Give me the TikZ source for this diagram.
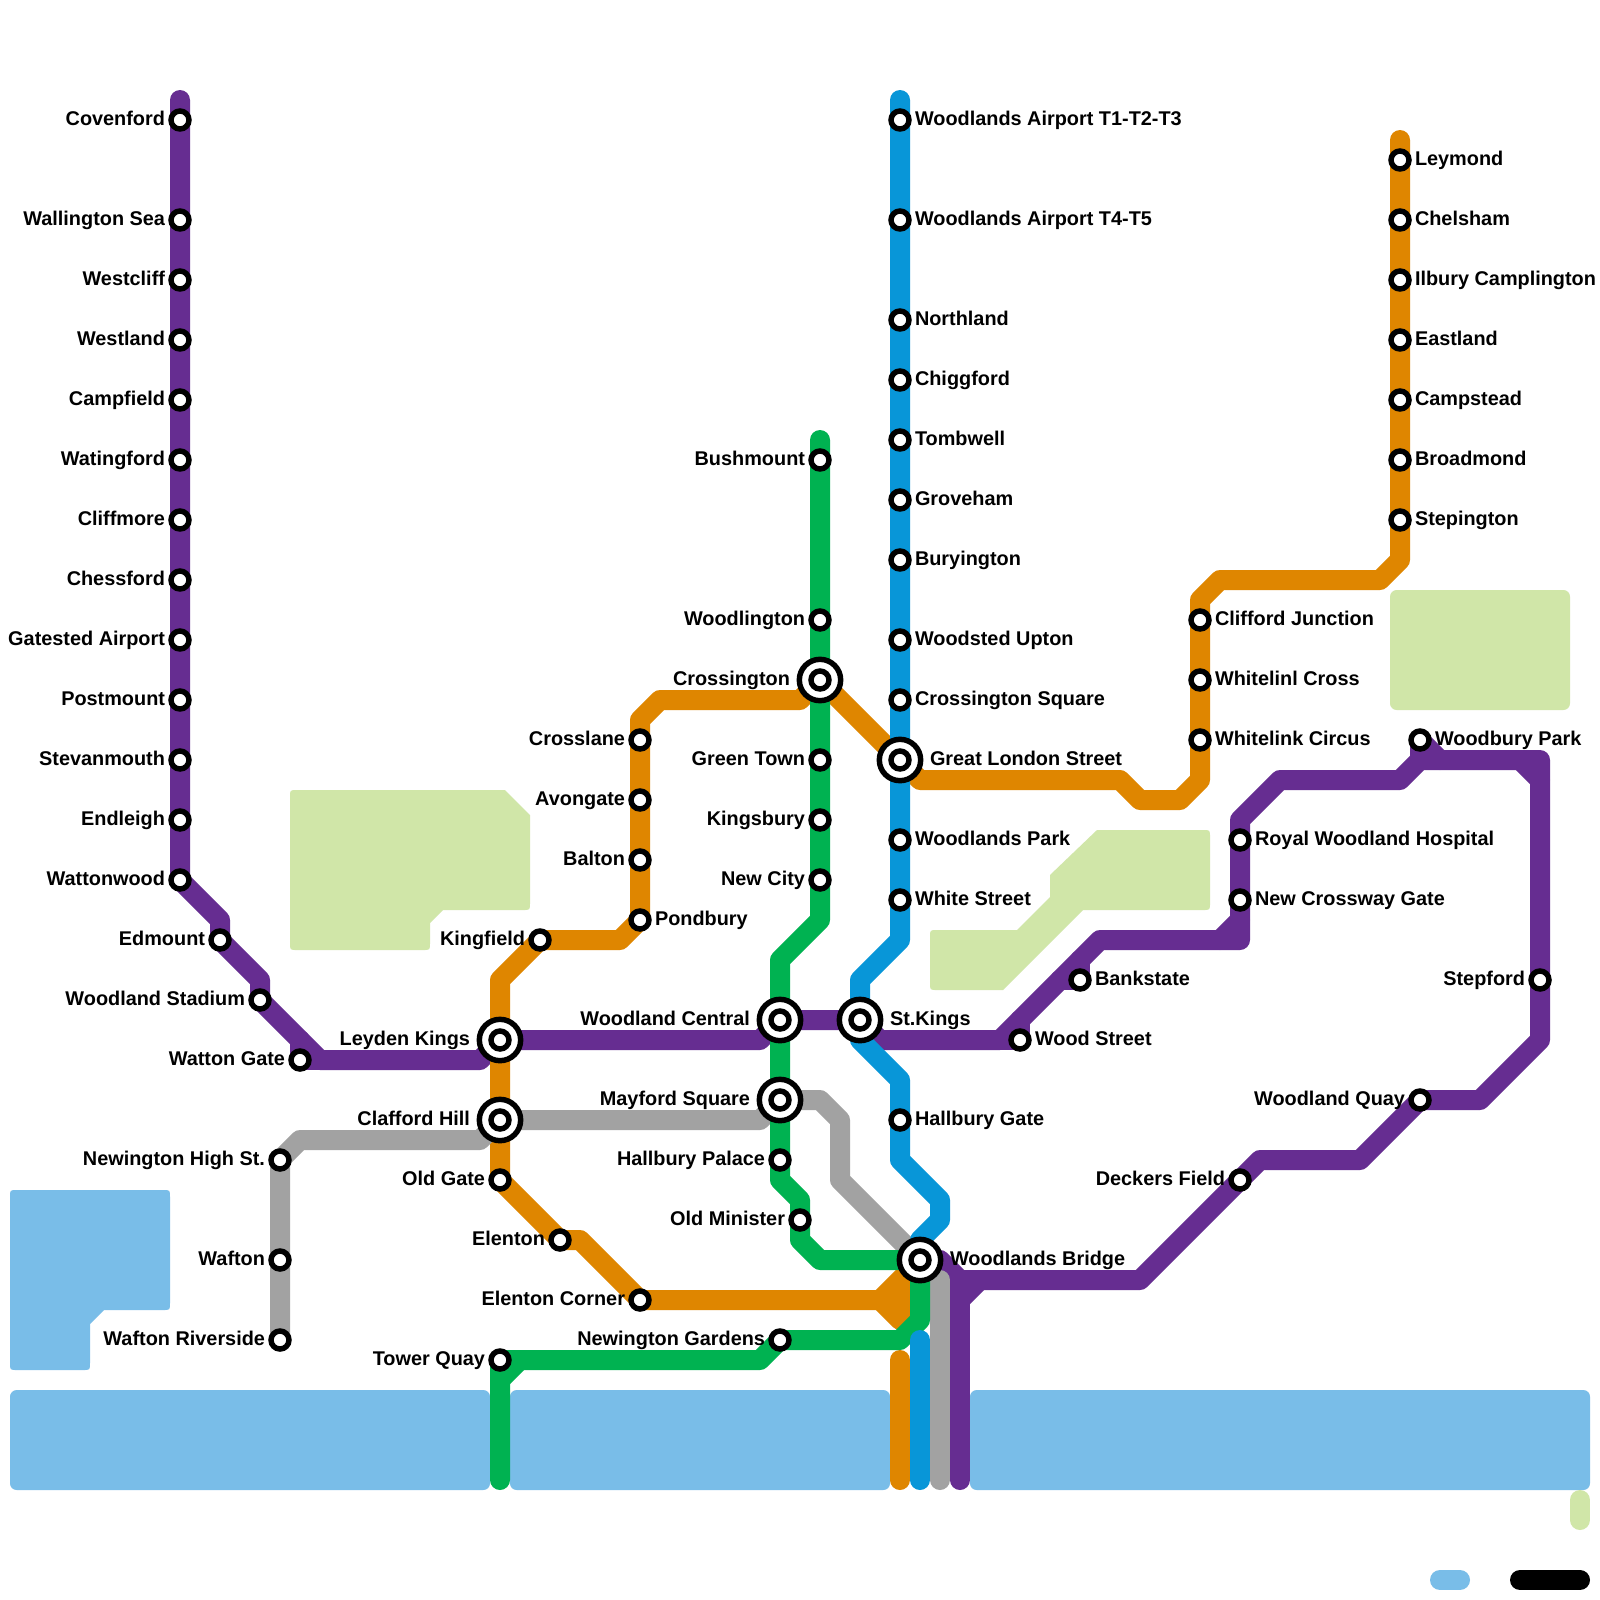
\documentclass[tikz,border=0pt]{standalone}
\usepackage{fontspec}
\setmainfont{Liberation Sans}
\usetikzlibrary{backgrounds}
\definecolor{cpurple}{HTML}{662D91}
\definecolor{corange}{HTML}{DF8600}
\definecolor{cgreen}{HTML}{00B251}
\definecolor{cblue}{HTML}{0896D8}
\definecolor{cgray}{HTML}{A2A2A2}
\definecolor{cwater}{HTML}{79BDE8}
\definecolor{cpark}{HTML}{D0E6A8}
\tikzset{
  stop/.style={circle,draw=black,fill=white,line width=4.1pt,minimum size=13.5pt,inner sep=0pt,outer sep=0pt},
  hubout/.style={circle,draw=black,fill=white,line width=4.1pt,minimum size=31pt,inner sep=0pt,outer sep=0pt},
  lbl/.style={font=\bfseries\fontsize{14.9pt}{15pt}\selectfont,text=black,inner sep=0pt,outer sep=0pt},
  route/.style={line width=15pt,line cap=round,line join=round},
  area/.style={rounded corners=5pt},
}
% name, x, y, text
\newcommand{\stR}[4]{\node[stop] (#1) at (#2,#3) {};\node[lbl,anchor=base west] (#1-l) at (#2+15,#3+5.3) {#4};}
\newcommand{\stL}[4]{\node[stop] (#1) at (#2,#3) {};\node[lbl,anchor=base east] (#1-l) at (#2-15,#3+5.3) {#4};}
\newcommand{\hubR}[4]{\node[hubout] (#1) at (#2,#3) {};\node[stop] (#1-i) at (#2,#3) {};\node[lbl,anchor=base west] (#1-l) at (#2+30,#3+5.3) {#4};}
\newcommand{\hubL}[4]{\node[hubout] (#1) at (#2,#3) {};\node[stop] (#1-i) at (#2,#3) {};\node[lbl,anchor=base east] (#1-l) at (#2-30,#3+5.3) {#4};}
\begin{document}
\begin{tikzpicture}[x=.75pt,y=-.75pt]
\useasboundingbox (0,0) rectangle (1600,1600);
% left purple
\stL{cov}{180}{120}{Covenford}
\stL{wal}{180}{220}{Wallington Sea}
\stL{wcl}{180}{280}{Westcliff}
\stL{wld}{180}{340}{Westland}
\stL{cam}{180}{400}{Campfield}
\stL{wat}{180}{460}{Watingford}
\stL{cli}{180}{520}{Cliffmore}
\stL{che}{180}{580}{Chessford}
\stL{gat}{180}{640}{Gatested Airport}
\stL{pos}{180}{700}{Postmount}
\stL{ste}{180}{760}{Stevanmouth}
\stL{end}{180}{820}{Endleigh}
\stL{wtw}{180}{880}{Wattonwood}
\stL{edm}{220}{940}{Edmount}
\stL{wst}{260}{1000}{Woodland Stadium}
\stL{wtg}{300}{1060}{Watton Gate}
\hubL{ley}{500}{1040}{Leyden Kings}
\hubL{wce}{780}{1020}{Woodland Central}
\hubR{ski}{860}{1020}{St.Kings}
\stR{wos}{1020}{1040}{Wood Street}
\stR{ban}{1080}{980}{Bankstate}
\stR{nwc}{1240}{900}{New Crossway Gate}
\stR{roy}{1240}{840}{Royal Woodland Hospital}
\stR{wbp}{1420}{740}{Woodbury Park}
\stL{stf}{1540}{980}{Stepford}
\stL{wqu}{1420}{1100}{Woodland Quay}
\stL{dec}{1240}{1180}{Deckers Field}
\hubR{wbr}{920}{1260}{Woodlands Bridge}
% blue
\stR{wa1}{900}{120}{Woodlands Airport T1-T2-T3}
\stR{wa4}{900}{220}{Woodlands Airport T4-T5}
\stR{nor}{900}{320}{Northland}
\stR{chi}{900}{380}{Chiggford}
\stR{tom}{900}{440}{Tombwell}
\stR{gro}{900}{500}{Groveham}
\stR{bur}{900}{560}{Buryington}
\stR{wup}{900}{640}{Woodsted Upton}
\stR{csq}{900}{700}{Crossington Square}
\hubR{gls}{900}{760}{Great London Street}
\stR{wpk}{900}{840}{Woodlands Park}
\stR{whs}{900}{900}{White Street}
\stR{hga}{900}{1120}{Hallbury Gate}
% orange
\stR{lym}{1400}{160}{Leymond}
\stR{chl}{1400}{220}{Chelsham}
\stR{ilb}{1400}{280}{Ilbury Camplington}
\stR{eas}{1400}{340}{Eastland}
\stR{cst}{1400}{400}{Campstead}
\stR{bro}{1400}{460}{Broadmond}
\stR{stp}{1400}{520}{Stepington}
\stR{clj}{1200}{620}{Clifford Junction}
\stR{wcr}{1200}{680}{Whitelinl Cross}
\stR{wci}{1200}{740}{Whitelink Circus}
\stL{crl}{640}{740}{Crosslane}
\stL{avo}{640}{800}{Avongate}
\stL{bal}{640}{860}{Balton}
\stR{pon}{640}{920}{Pondbury}
\stL{kin}{540}{940}{Kingfield}
\hubL{cla}{500}{1120}{Clafford Hill}
\stL{old}{500}{1180}{Old Gate}
\stL{ele}{560}{1240}{Elenton}
\stL{elc}{640}{1300}{Elenton Corner}
% green
\stL{bus}{820}{460}{Bushmount}
\stL{wgt}{820}{620}{Woodlington}
\hubL{cro}{820}{680}{Crossington}
\stL{grt}{820}{760}{Green Town}
\stL{kbu}{820}{820}{Kingsbury}
\stL{nci}{820}{880}{New City}
\hubL{may}{780}{1100}{Mayford Square}
\stL{hpa}{780}{1160}{Hallbury Palace}
\stL{omi}{800}{1220}{Old Minister}
\stL{nga}{780}{1340}{Newington Gardens}
\stL{tow}{500}{1360}{Tower Quay}
% gray
\stL{nhs}{280}{1160}{Newington High St.}
\stL{waf}{280}{1260}{Wafton}
\stL{wri}{280}{1340}{Wafton Riverside}

\begin{scope}[on background layer]
\fill[white] (0,0) rectangle (1600,1600);
% water
\fill[cwater] (17,1190) -- (163,1190) .. controls (170,1190) .. (170,1197) -- (170,1303) .. controls (170,1310) .. (163,1310) -- (104,1310) -- (90,1324) -- (90,1363) .. controls (90,1370) .. (83,1370) -- (17,1370) .. controls (10,1370) .. (10,1363) -- (10,1197) .. controls (10,1190) .. (17,1190) -- cycle;
\fill[cwater,area] (10,1390) rectangle (490,1490);
\fill[cwater,area] (510,1390) rectangle (890,1490);
\fill[cwater,area] (970,1390) rectangle (1590,1490);
% parks
\fill[cpark] (297,790) -- (505,790) -- (530,815) -- (530,903) .. controls (530,910) .. (523,910) -- (443,910) -- (430,923) -- (430,943) .. controls (430,950) .. (423,950) -- (297,950) .. controls (290,950) .. (290,943) -- (290,797) .. controls (290,790) .. (297,790) -- cycle;
\fill[cpark] (1097,830) -- (1203,830) .. controls (1210,830) .. (1210,837) -- (1210,903) .. controls (1210,910) .. (1203,910) -- (1083,910) -- (1003,990) -- (937,990) .. controls (930,990) .. (930,983) -- (930,937) .. controls (930,930) .. (937,930) -- (1017,930) -- (1050,897) -- (1050,875) -- cycle;
\fill[cpark,area] (1390,590) rectangle (1570,710);
% legend chips
\coordinate (pa) at (1580,1500); \coordinate (pb) at (1580,1520);
\coordinate (wa) at (1440,1580); \coordinate (wb) at (1460,1580);
\coordinate (ka) at (1520,1580); \coordinate (kb) at (1580,1580);
\draw[route,cpark] (pa) -- (pb);
\draw[route,cwater] (wa) -- (wb);
\draw[route,black] (ka) -- (kb);
% purple
\draw[route,cpurple] (180,100) -- (wtw.center) -- (220,920) -- (edm.center) -- (260,980) -- (wst.center) -- (320,1060) -- (480,1060) -- (ley.center);
\draw[route,cpurple] (300,1040) -- (wtg.center) -- (320,1060);
\draw[route,cpurple] (ley.center) -- (760,1040) -- (wce.center) -- (ski.center) -- (880,1040) -- (1000,1040) -- (1100,940) -- (1240,940) -- (roy.center) -- (1240,820) -- (1280,780) -- (1400,780) -- (1420,760) -- (1540,760) -- (stf.center) -- (1540,1040) -- (1480,1100) -- (wqu.center) -- (1360,1160) -- (1260,1160) -- (dec.center) -- (1140,1280) -- (960,1280) -- (940,1260) -- (wbr.center);
\draw[route,cpurple] (960,1280) -- (960,1480);
\draw[route,cpurple] (980,1280) -- (960,1300);
\draw[route,cpurple] (1000,1040) -- (wos.center) -- (1020,1020);
\draw[route,cpurple] (1060,980) -- (ban.center) -- (1080,960);
\draw[route,cpurple] (1220,940) -- (1240,920);
\draw[route,cpurple] (wbp.center) -- (1420,760);
\draw[route,cpurple] (wbp.center) -- (1440,760);
\draw[route,cpurple] (1520,760) -- (1540,780);
% orange
\draw[route,corange] (1400,140) -- (stp.center) -- (1400,560) -- (1380,580) -- (1220,580) -- (1200,600) -- (wci.center) -- (1200,780) -- (1180,800) -- (1140,800) -- (1120,780) -- (920,780) -- (gls.center) -- (cro.center);
\draw[route,corange] (cro.center) -- (800,700) -- (660,700) -- (640,720) -- (pon.center) -- (620,940) -- (kin.center) -- (500,980) -- (old.center) -- (ele.center) -- (580,1240) -- (elc.center) -- (880,1300) -- (wbr.center);
\fill[corange] (880,1300) -- (wbr.center) -- (920,1300) -- (900,1320) -- cycle;
\draw[route,corange] (880,1300) -- (900,1320) -- (920,1300);
\draw[route,corange] (900,1360) -- (900,1480);
% gray
\draw[route,cgray] (wri.center) -- (nhs.center) -- (300,1140) -- (480,1140) -- (cla.center) -- (760,1120) -- (may.center) -- (820,1100) -- (840,1120) -- (840,1180) -- (wbr.center);
\draw[route,cgray] (930,1280) -- (940,1280) -- (940,1480);
% green
\draw[route,cgreen] (820,440) -- (nci.center) -- (820,920) -- (780,960) -- (hpa.center) -- (780,1180) -- (800,1200) -- (omi.center) -- (800,1240) -- (820,1260) -- (wbr.center) -- (920,1320) -- (900,1340) -- (nga.center) -- (760,1360) -- (tow.center) -- (500,1480);
\draw[route,cgreen] (520,1360) -- (500,1380);
% blue
\draw[route,cblue] (900,100) -- (900,940) -- (860,980) -- (ski.center) -- (860,1040) -- (900,1080) -- (hga.center) -- (900,1160) -- (940,1200) -- (940,1220) -- (920,1240) -- (wbr.center);
\draw[route,cblue] (920,1340) -- (920,1480);
\end{scope}
\end{tikzpicture}
\end{document}
